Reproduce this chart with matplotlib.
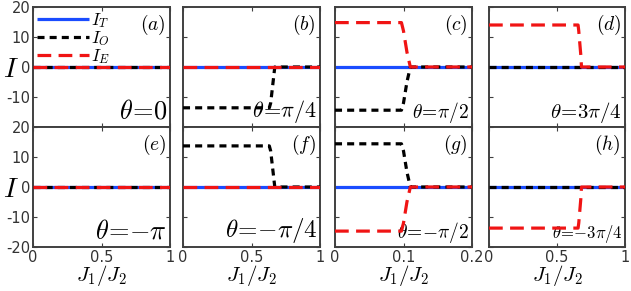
import matplotlib
matplotlib.use('Agg')
import matplotlib.pyplot as plt

plt.rcParams['mathtext.fontset'] = 'cm'
plt.rcParams['font.family'] = 'DejaVu Sans'

# panel data: x grid, I_T, I_O, I_E
x_flat = [0.0, 1.0]
zero_flat = [0, 0]

x_b = [0.0, 0.63, 0.64, 0.66, 0.67, 1.0]
io_b = [-13.6, -13.6, -12.0, -4.0, 0.0, 0.0]

x_c = [0.0, 0.097, 0.100, 0.105, 0.110, 0.2]
ie_c = [14.8, 14.8, 12.0, 5.0, 0.0, 0.0]
io_c = [-14.4, -14.4, -12.0, -5.0, 0.0, 0.0]

x_d = [0.0, 0.655, 0.66, 0.675, 0.68, 1.0]
ie_d = [14.0, 14.0, 12.0, 4.0, 0.0, 0.0]

x_f = [0.0, 0.63, 0.64, 0.66, 0.67, 1.0]
io_f = [13.7, 13.7, 12.0, 4.0, 0.0, 0.0]

x_g = [0.0, 0.097, 0.100, 0.105, 0.110, 0.2]
io_g = [14.4, 14.4, 12.0, 5.0, 0.0, 0.0]
ie_g = [-14.7, -14.7, -12.0, -5.0, 0.0, 0.0]

x_h = [0.0, 0.655, 0.66, 0.675, 0.68, 1.0]
ie_h = [-13.7, -13.7, -12.0, -4.0, 0.0, 0.0]

tags = ['a', 'b', 'c', 'd', 'e', 'f', 'g', 'h']
thetas = [r'$\theta\!=\!0$', r'$\theta\!=\!\pi/4$', r'$\theta\!=\!\pi/2$', r'$\theta\!=\!3\pi/4$',
          r'$\theta\!=\!{-}\pi$', r'$\theta\!=\!{-}\pi/4$', r'$\theta\!=\!{-}\pi/2$', r'$\theta\!=\!{-}3\pi/4$']
theta_sizes = [19, 16, 14, 15, 19, 18, 14, 12]

panels = [
    (x_flat, zero_flat, x_flat, zero_flat, x_flat, zero_flat),
    (x_flat, zero_flat, x_b, io_b, x_flat, zero_flat),
    ([0, 0.2], zero_flat, x_c, io_c, x_c, ie_c),
    (x_flat, zero_flat, x_flat, zero_flat, x_d, ie_d),
    (x_flat, zero_flat, x_flat, zero_flat, x_flat, zero_flat),
    (x_flat, zero_flat, x_f, io_f, x_flat, zero_flat),
    ([0, 0.2], zero_flat, x_g, io_g, x_g, ie_g),
    (x_flat, zero_flat, x_flat, zero_flat, x_h, ie_h),
]

W, H = 631, 291
fig = plt.figure(figsize=(W / 100, H / 100), dpi=100)

col_left = [33, 183, 335, 489]
col_w = [137, 137, 137, 136]
row_top = [7, 127]
row_h = 120

blue = '#1a4cff'
red = '#f01414'
spine_col = '#404040'

for k in range(8):
    r, c = divmod(k, 4)
    ax = fig.add_axes([col_left[c] / W, 1 - (row_top[r] + row_h) / H, col_w[c] / W, row_h / H])
    xt, it, xo, io, xe, ie = panels[k]
    ax.plot(xt, it, color=blue, lw=2.3, solid_capstyle='butt', label=r'$I_T$', zorder=2)
    ax.plot(xo, io, color='black', lw=2.3, dashes=(2.2, 1.6), label=r'$I_O$', zorder=3)
    ax.plot(xe, ie, color=red, lw=2.3, dashes=(4.3, 2.3), label=r'$I_E$', zorder=4)

    xmax = 0.2 if c == 2 else 1.0
    ax.set_xlim(0, xmax)
    ax.set_ylim(-20, 20)
    ax.set_xticks([0, xmax / 2, xmax])
    ax.set_yticks([-20, -10, 0, 10, 20])
    ax.tick_params(direction='in', length=3, width=0.8, top=True, right=True,
                   labelsize=10.5, colors=spine_col, labelcolor='#333333', pad=2)
    for s in ax.spines.values():
        s.set_color(spine_col)
        s.set_linewidth(1.4)

    if r == 1:
        labs = ['0', '0.1', '0.2'] if c == 2 else ['0', '0.5', '1']
        ax.set_xticklabels(labs)
        ax.set_xlabel(r'$J_1/J_2$', fontsize=15, labelpad=-1)
    else:
        ax.set_xticklabels([])

    if c == 0:
        if r == 0:
            ax.set_yticklabels(['', '-10', '0', '10', '20'])
        else:
            ax.set_yticklabels(['-20', '-10', '0', '10', '20'])
        fig.text(3 / W, 1 - (row_top[r] + 62) / H, r'$I$', fontsize=20,
                 ha='left', va='center')
    else:
        ax.set_yticklabels([])

    ax.text(0.97, 0.95, r'$(%s)$' % tags[k], transform=ax.transAxes,
            ha='right', va='top', fontsize=14)
    ax.text(0.98, 0.02, thetas[k], transform=ax.transAxes,
            ha='right', va='bottom', fontsize=theta_sizes[k])

    if k == 0:
        ax.legend(loc='upper left', frameon=False, fontsize=12.5, handlelength=3.0,
                  handletextpad=0.1, labelspacing=-0.05, borderaxespad=0.0,
                  borderpad=0.25)

fig.savefig('out.png', dpi=100)
